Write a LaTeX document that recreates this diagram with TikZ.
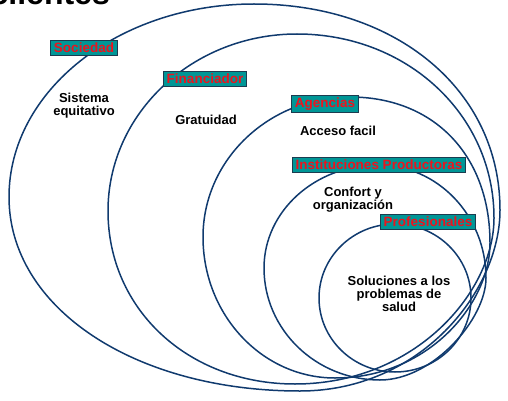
\documentclass[tikz,border=0pt]{standalone}
\usepackage{fontspec}
\setmainfont{Liberation Sans}
\definecolor{ringblue}{RGB}{16,58,110}
\definecolor{tagfill}{RGB}{0,150,150}
\definecolor{tagedge}{RGB}{28,60,80}
\definecolor{tagtext}{RGB}{235,20,30}
\begin{document}
\begin{tikzpicture}[x=1pt,y=-1pt,
  ring/.style={draw=ringblue,line width=1.5pt},
  tag/.style={draw=tagedge,line width=1pt,fill=tagfill,text=tagtext,
    font=\bfseries\fontsize{13.5}{13.5}\selectfont,inner xsep=3.5pt,inner ysep=2.5pt},
  value/.style={align=center,text=black,
    font=\bfseries\fontsize{13}{13}\selectfont,inner sep=0pt}]
\useasboundingbox (0,0) rectangle (508,401);
\clip (0,0) rectangle (508,401);
% heading, cut at the top edge
\node[anchor=base east,font=\bfseries\fontsize{32}{32}\selectfont,inner sep=0pt] (head) at (110,4.5) {clientes};
% nested rings, outermost first; each one runs left -> top -> right -> bottom
\draw[ring] (9,197) .. controls (9,90.5) and (118.8,4) .. (254,4)
  .. controls (396.7,4) and (500,90.5) .. (500,210)
  .. controls (500,291.5) and (420,391) .. (300,391)
  .. controls (134.1,391) and (9,307.6) .. cycle;
\draw[ring] (108,211) .. controls (108,113.3) and (192.7,34) .. (297,34)
  .. controls (407.3,34) and (494,115) .. (494,218)
  .. controls (494,292.7) and (414.4,384) .. (295,384)
  .. controls (188.4,384) and (108,309.6) .. cycle;
\draw[ring] (203,237) .. controls (203,159.7) and (268.9,97) .. (350,97)
  .. controls (434,97) and (490,155.4) .. (490,243)
  .. controls (490,303.8) and (428,378) .. (335,378)
  .. controls (262.1,378) and (203,314.8) .. cycle;
\draw[ring] (264,268) .. controls (264,211.1) and (315.1,165) .. (378,165)
  .. controls (437.6,165) and (486,215.6) .. (486,278)
  .. controls (486,318.8) and (433,380) .. (380,380)
  .. controls (316,380) and (264,329.8) .. cycle;
\draw[ring] (395,298) ellipse [x radius=76,y radius=74];
% ring titles
\node[tag] (soc) at (84,48) {Sociedad};
\node[tag] (fin) at (205,79) {Financiador};
\node[tag] (age) at (325,104) {Agencias};
\node[tag] (ins) at (379,165) {Instituciones Productoras};
\node[tag] (pro) at (428,222) {Profesionales};
% what each one expects
\node[value] (v1) at (84,106) {Sistema\\equitativo};
\node[value] (v2) at (206,120) {Gratuidad};
\node[value] (v3) at (338,131) {Acceso facil};
\node[value] (v4) at (353,200) {Confort y\\organización};
\node[value] (v5) at (399,294) {Soluciones a los\\problemas de\\salud};
\end{tikzpicture}
\end{document}
